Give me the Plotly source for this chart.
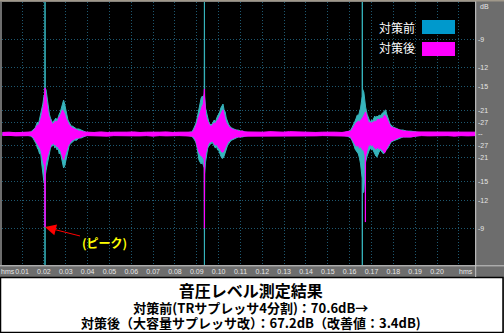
import plotly.graph_objects as go

# ---------------- data (time in s, amplitude as fraction of full scale) ----------------
# quiet start
t_q1 = [0.001, 0.004, 0.007, 0.010, 0.0125]
before_hi_q1 = [.004, .004, .004, .004, .005]
before_lo_q1 = [-.004, -.004, -.004, -.004, -.005]
after_hi_q1 = [.006, .007, .005, .007, .006]
after_lo_q1 = [-.006, -.005, -.007, -.006, -.006]

# burst 1
t_b1 = [.0140, .0145, .0150, .0155, .0160, .0165, .0170, .0175, .0180, .0185, .0190, .0195, .0200, .0204,
        .0205, .0206, .0210, .0215, .0220, .0225, .0230, .0235, .0240, .0245, .0250, .0255, .0260, .0265,
        .0270, .0275, .0280, .0285, .0290, .0295, .0300, .0305, .0310, .0315, .0320, .0325, .0330, .0340,
        .0350, .0360, .0370, .0380]
before_hi_b1 = [.008, .011, .015, .019, .023, .034, .045, .038, .057, .064, .083, .113, .143, .151, .600, .174,
                .166, .128, .098, .075, .060, .049, .042, .049, .053, .060, .049, .068, .075, .083, .098, .121,
                .128, .113, .091, .068, .053, .045, .038, .030, .030, .023, .019, .019, .015, .011]
before_lo_b1 = [-.008, -.011, -.015, -.023, -.030, -.038, -.053, -.060, -.075, -.072, -.113, -.151, -.181, -.189,
                -.600, -.158, -.136, -.113, -.083, -.068, -.053, -.045, -.045, -.038, -.053, -.045, -.060, -.053,
                -.075, -.068, -.091, -.106, -.128, -.121, -.098, -.083, -.060, -.045, -.038, -.034, -.030, -.023,
                -.023, -.015, -.015, -.011]
after_hi_b1 = [.007, .008, .011, .015, .019, .026, .034, .030, .045, .053, .068, .091, .113, .158, .174, .166,
               .136, .098, .075, .060, .049, .042, .034, .042, .045, .049, .042, .057, .064, .068, .079, .091,
               .083, .075, .060, .049, .042, .034, .030, .026, .023, .019, .015, .011, .011, .008]
after_lo_b1 = [-.006, -.008, -.011, -.015, -.023, -.030, -.038, -.045, -.053, -.057, -.075, -.098, -.113, -.121,
               -.351, -.113, -.098, -.083, -.068, -.053, -.045, -.038, -.038, -.034, -.042, -.038, -.049, -.045,
               -.057, -.057, -.068, -.083, -.098, -.083, -.068, -.057, -.045, -.038, -.030, -.026, -.023, -.019,
               -.015, -.015, -.011, -.008]

# quiet 2
t_q2 = [.040, .043, .046, .049, .052, .055, .058, .061, .064, .067, .070, .073, .076, .079, .082, .085]
before_hi_q2 = [.004, .005, .004, .004, .005, .004, .004, .005, .004, .004, .005, .004, .004, .005, .004, .004]
before_lo_q2 = [-.004, -.004, -.005, -.004, -.004, -.005, -.004, -.004, -.004, -.005, -.004, -.004, -.005, -.004, -.004, -.004]
after_hi_q2 = [.007, .006, .008, .006, .007, .006, .007, .008, .006, .007, .006, .007, .008, .006, .007, .006]
after_lo_q2 = [-.006, -.007, -.006, -.008, -.006, -.007, -.006, -.007, -.007, -.006, -.008, -.006, -.007, -.006, -.006, -.007]

# burst 2
t_b2 = [.0875, .0880, .0885, .0890, .0895, .0900, .0905, .0910, .0915, .0920, .0925, .0930, .0934, .0935,
        .0936, .0940, .0945, .0950, .0955, .0960, .0965, .0970, .0975, .0980, .0985, .0990, .0995, .1000,
        .1005, .1010, .1015, .1020, .1025, .1030, .1035, .1040, .1045, .1050, .1055, .1060, .1070, .1080,
        .1090, .1100, .1110, .1120]
before_hi_b2 = [.008, .011, .019, .026, .038, .053, .075, .091, .106, .136, .143, .136, .151, .600, .143, .098,
                .075, .060, .045, .038, .034, .038, .045, .053, .045, .060, .068, .075, .083, .098, .106, .113,
                .091, .083, .060, .045, .038, .030, .026, .023, .019, .015, .015, .011, .011, .008]
before_lo_b2 = [-.008, -.011, -.015, -.023, -.030, -.045, -.083, -.098, -.106, -.113, -.106, -.121, -.128, -.600,
                -.151, -.106, -.075, -.053, -.045, -.038, -.038, -.030, -.038, -.045, -.053, -.045, -.060, -.060,
                -.075, -.083, -.091, -.091, -.083, -.068, -.053, -.045, -.038, -.030, -.026, -.023, -.019, -.015,
                -.011, -.011, -.011, -.008]
after_hi_b2 = [.007, .008, .011, .019, .026, .038, .053, .068, .075, .091, .106, .113, .151, .170, .136, .075,
               .057, .045, .038, .030, .030, .030, .038, .042, .038, .049, .053, .057, .064, .075, .083, .091,
               .068, .053, .042, .034, .030, .023, .023, .019, .015, .015, .011, .011, .011, .008]
after_lo_b2 = [-.007, -.008, -.011, -.015, -.023, -.034, -.053, -.068, -.075, -.083, -.083, -.091, -.098, -.355,
               -.106, -.075, -.053, -.042, -.034, -.030, -.030, -.026, -.030, -.038, -.042, -.038, -.045, -.049,
               -.057, -.060, -.068, -.068, -.060, -.049, -.038, -.034, -.030, -.023, -.019, -.019, -.015, -.011,
               -.011, -.011, -.008, -.008]

# quiet 3
t_q3 = [.1145, .1175, .1205, .1235, .1265, .1295, .1325, .1355, .1385, .1415, .1445, .1475, .1505, .1535, .1565]
before_hi_q3 = [.004, .005, .004, .004, .005, .004, .004, .005, .004, .004, .005, .004, .004, .005, .004]
before_lo_q3 = [-.004, -.004, -.005, -.004, -.004, -.005, -.004, -.004, -.004, -.005, -.004, -.004, -.005, -.004, -.004]
after_hi_q3 = [.007, .008, .007, .009, .008, .007, .009, .008, .007, .008, .006, .007, .008, .007, .006]
after_lo_q3 = [-.008, -.007, -.009, -.007, -.008, -.009, -.007, -.008, -.008, -.007, -.007, -.006, -.007, -.008, -.007]

# burst 3
t_b3 = [.1590, .1600, .1605, .1610, .1615, .1620, .1625, .1630, .1635, .1640, .1645, .1650, .1655, .1657,
        .1658, .1659, .1665, .1670, .1671, .1672, .1673, .1680, .1685, .1690, .1695, .1700, .1705, .1710,
        .1715, .1720, .1725, .1730, .1735, .1740, .1745, .1750, .1755, .1760, .1765, .1770, .1775, .1780,
        .1785, .1790, .1800, .1810, .1820, .1830, .1845, .1860, .1880, .1900]
before_hi_b3 = [.008, .011, .015, .023, .030, .038, .049, .060, .072, .068, .083, .098, .128, .143, .600, .170,
                .158, .121, .113, .106, .102, .075, .060, .053, .045, .053, .049, .060, .068, .060, .068, .064,
                .072, .068, .075, .079, .083, .087, .091, .075, .060, .045, .038, .034, .026, .023, .019, .015,
                .015, .011, .011, .008]
before_lo_b3 = [-.008, -.011, -.015, -.023, -.030, -.042, -.057, -.064, -.068, -.075, -.091, -.113, -.151, -.166,
                -.600, -.223, -.219, -.151, -.128, -.113, -.106, -.083, -.068, -.060, -.053, -.060, -.057, -.068,
                -.075, -.083, -.087, -.075, -.068, -.060, -.064, -.068, -.075, -.068, -.064, -.060, -.053, -.045,
                -.038, -.030, -.026, -.023, -.019, -.015, -.011, -.011, -.011, -.008]
after_hi_b3 = [.008, .011, .011, .015, .023, .030, .038, .042, .045, .049, .045, .053, .057, .060, .060, .060,
               .068, .075, .079, .083, .083, .060, .045, .042, .045, .038, .045, .045, .049, .045, .053, .057,
               .053, .057, .060, .057, .064, .072, .068, .057, .045, .038, .030, .026, .023, .019, .015, .015,
               .011, .011, .008, .008]
after_lo_b3 = [-.008, -.008, -.011, -.019, -.023, -.030, -.038, -.045, -.045, -.042, -.053, -.049, -.053, -.057,
               -.057, -.060, -.060, -.075, -.083, -.332, -.083, -.060, -.045, -.042, -.038, -.045, -.038, -.049,
               -.053, -.057, -.053, -.049, -.057, -.053, -.057, -.060, -.064, -.072, -.060, -.053, -.045, -.038,
               -.030, -.026, -.023, -.019, -.015, -.011, -.011, -.011, -.011, -.008]

# quiet end
t_q4 = [.193, .196, .199, .202, .205, .208, .211, .214, .2175]
before_hi_q4 = [.004, .004, .005, .004, .004, .005, .004, .004, .004]
before_lo_q4 = [-.004, -.005, -.004, -.004, -.005, -.004, -.004, -.004, -.004]
after_hi_q4 = [.007, .006, .008, .006, .007, .006, .007, .006, .007]
after_lo_q4 = [-.006, -.007, -.006, -.007, -.006, -.008, -.006, -.007, -.006]

# axis labels
db_ticks = [-9, -12, -15, -21, -27]
x_ticks = [0.01, 0.02, 0.03, 0.04, 0.05, 0.06, 0.07, 0.08, 0.09, 0.10, 0.11, 0.12, 0.13, 0.14, 0.15,
           0.16, 0.17, 0.18, 0.19, 0.20, 0.21]
x_tick_text = ["0.01", "0.02", "0.03", "0.04", "0.05", "0.06", "0.07", "0.08", "0.09", "0.10", "0.11",
               "0.12", "0.13", "0.14", "0.15", "0.16", "0.17", "0.18", "0.19", "0.20", ""]

series_names = ["対策前", "対策後"]
title_lines = ["音圧レベル測定結果",
               "対策前(TRサプレッサ4分割)：70.6dB→",
               "対策後（大容量サプレッサ改）：67.2dB（改善値：3.4dB)"]
peak_label = "(ピーク)"

# ---------------- assemble ----------------
t = t_q1 + t_b1 + t_q2 + t_b2 + t_q3 + t_b3 + t_q4
before_hi = before_hi_q1 + before_hi_b1 + before_hi_q2 + before_hi_b2 + before_hi_q3 + before_hi_b3 + before_hi_q4
before_lo = before_lo_q1 + before_lo_b1 + before_lo_q2 + before_lo_b2 + before_lo_q3 + before_lo_b3 + before_lo_q4
after_hi = after_hi_q1 + after_hi_b1 + after_hi_q2 + after_hi_b2 + after_hi_q3 + after_hi_b3 + after_hi_q4
after_lo = after_lo_q1 + after_lo_b1 + after_lo_q2 + after_lo_b2 + after_lo_q3 + after_lo_b3 + after_lo_q4
for arr in (before_hi, before_lo, after_hi, after_lo):
    assert len(arr) == len(t), (len(arr), len(t))

W, H = 504, 333
def PX(x):
    return x / W
def PY(y):
    return 1 - y / H

CYAN = "#36b4bc"
MAG = "#ff00ff"
GRID = "#1e5870"
PANEL = "#6d6d6d"
LABEL = "#e6e6e6"

fig = go.Figure()
for lo, hi, col in ((before_lo, before_hi, CYAN), (after_lo, after_hi, MAG)):
    fig.add_trace(go.Scatter(x=t, y=lo, mode="lines", line=dict(color=col, width=1),
                             hoverinfo="skip", showlegend=False))
    fig.add_trace(go.Scatter(x=t, y=hi, mode="lines", line=dict(color=col, width=1),
                             fill="tonexty", fillcolor=col, hoverinfo="skip", showlegend=False))

yvals, ytext = [], []
for d in db_ticks:
    yvals += [10 ** (d / 20), -(10 ** (d / 20))]
    ytext += [str(d), str(d)]
yvals.append(0.0)
ytext.append("--")

fig.update_layout(
    width=W, height=H, margin=dict(l=0, r=0, t=0, b=0),
    paper_bgcolor=PANEL, plot_bgcolor="#000000",
    xaxis=dict(domain=[PX(2), PX(475)], range=[0.0008, 0.2174], tickmode="array",
               tickvals=x_ticks, ticktext=x_tick_text, showgrid=True, gridcolor=GRID,
               griddash="1px,2px", gridwidth=1, zeroline=False, showline=False, ticks="",
               tickfont=dict(family="Liberation Sans", size=7, color=LABEL), ticklabelstandoff=1,
               fixedrange=True),
    yaxis=dict(domain=[PY(265), PY(2)], range=[-0.494, 0.498], side="right", tickmode="array",
               tickvals=yvals, ticktext=ytext, showgrid=True, gridcolor=GRID, griddash="1px,2px",
               gridwidth=1, zeroline=False, showline=False, ticks="",
               tickfont=dict(family="Liberation Sans", size=7, color=LABEL), ticklabelstandoff=2,
               fixedrange=True),
)

shapes = [
    # white result box
    dict(type="rect", xref="paper", yref="paper", x0=PX(0.5), x1=PX(503), y0=PY(332.5), y1=PY(277.5),
         fillcolor="#ffffff", line=dict(color="#000000", width=1.5), layer="below"),
    # separators of the grey panels
    dict(type="line", xref="paper", yref="paper", x0=PX(0), x1=PX(504), y0=PY(265.8), y1=PY(265.8),
         line=dict(color="#c8c8c8", width=1)),
    dict(type="line", xref="paper", yref="paper", x0=PX(475.7), x1=PX(475.7), y0=PY(0), y1=PY(277),
         line=dict(color="#c8c8c8", width=1)),
    # top border
    dict(type="rect", xref="paper", yref="paper", x0=PX(0), x1=PX(504), y0=PY(1.5), y1=PY(0),
         fillcolor="#a0988a", line=dict(width=0)),
    # legend swatches
    dict(type="rect", xref="paper", yref="paper", x0=PX(422), x1=PX(455), y0=PY(34), y1=PY(20),
         fillcolor="#0099cc", line=dict(width=0)),
    dict(type="rect", xref="paper", yref="paper", x0=PX(422), x1=PX(455), y0=PY(56), y1=PY(42),
         fillcolor=MAG, line=dict(width=0)),
]
fig.update_layout(shapes=shapes)

ann = []
jp = "Noto Sans CJK JP"
ann.append(dict(xref="paper", yref="paper", x=PX(397), y=PY(27), text=series_names[0], showarrow=False,
                font=dict(family=jp, size=12, color="#ffffff"), xanchor="center", yanchor="middle"))
ann.append(dict(xref="paper", yref="paper", x=PX(397), y=PY(48), text=series_names[1], showarrow=False,
                font=dict(family=jp, size=12, color="#ffffff"), xanchor="center", yanchor="middle"))
ann.append(dict(xref="paper", yref="paper", x=PX(484), y=PY(6), text="dB", showarrow=False,
                font=dict(family="Liberation Sans", size=7, color=LABEL), xanchor="center", yanchor="middle"))
ann.append(dict(xref="paper", yref="paper", x=PX(8), y=PY(271), text="hms", showarrow=False,
                font=dict(family="Liberation Sans", size=7, color=LABEL), xanchor="center", yanchor="middle"))
ann.append(dict(xref="paper", yref="paper", x=PX(466), y=PY(271), text="hms", showarrow=False,
                font=dict(family="Liberation Sans", size=7, color=LABEL), xanchor="center", yanchor="middle"))
# title block: one multi-line text
title_text = ("<span style='font-size:16px'><b>" + title_lines[0] + "</b></span><br>"
              "<span style='font-size:13px'><b>" + title_lines[1] + "</b></span><br>"
              "<span style='font-size:13px'><b>" + title_lines[2] + "</b></span>")
ann.append(dict(xref="paper", yref="paper", x=PX(251), y=PY(305), text=title_text, align="center",
                showarrow=False, font=dict(family=jp, size=12.1, color="#000000"),
                xanchor="center", yanchor="middle"))
# peak arrow pointing at the lowest point of the "after" series within the first burst
first = [i for i in range(len(t)) if t[i] < 0.05]
i_min = min(first, key=lambda i: after_lo[i])
ann.append(dict(xref="x", yref="y", x=t[i_min], y=after_lo[i_min], ax=59, ay=15, text="<b>" + peak_label + "</b>",
                showarrow=True, arrowhead=2, arrowsize=2.2, arrowwidth=1, arrowcolor="#ff0000",
                font=dict(family=jp, size=12, color="#ffff00")))
fig.update_layout(annotations=ann)

fig.write_html("out.html")
